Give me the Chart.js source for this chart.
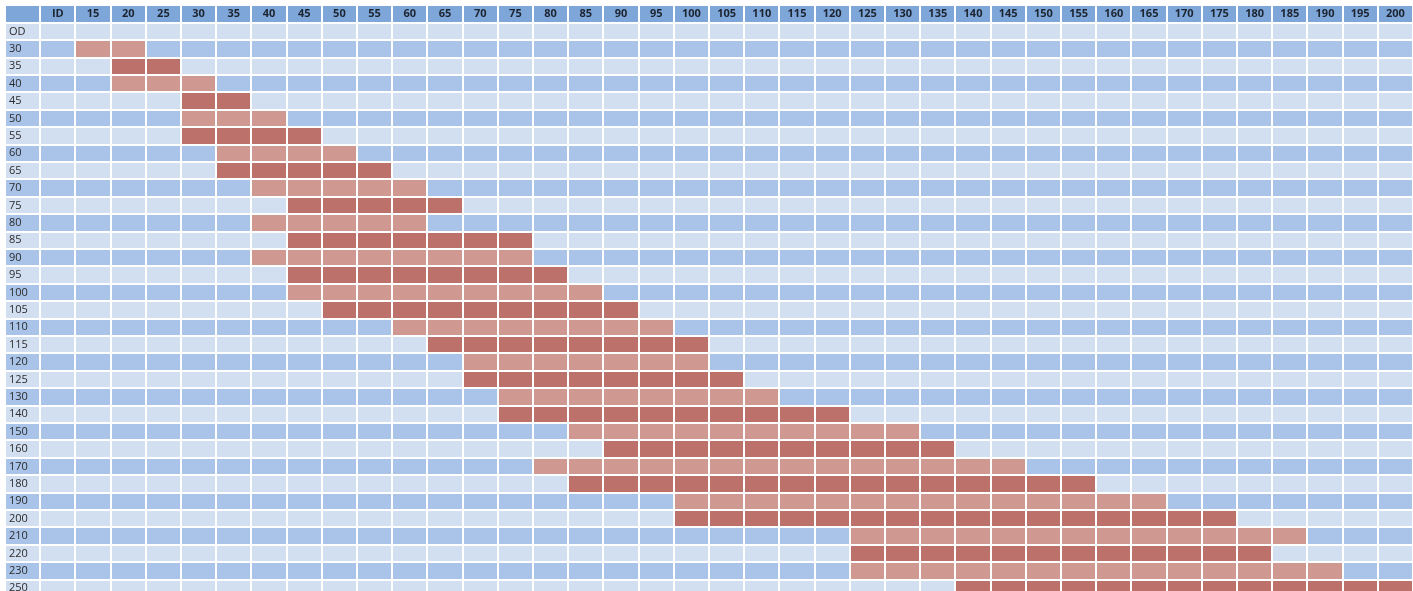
<!DOCTYPE html>
<html>
<head>
<meta charset="utf-8">
<title>Range grid</title>
<script src="https://cdn.jsdelivr.net/npm/chart.js@4"></script>
<style>
  html, body { margin: 0; padding: 0; background: #fff; overflow: hidden; }
  canvas { display: block; }
</style>
</head>
<body>
<canvas id="grid" width="1413" height="597"></canvas>
<script>
const columns = ['ID', '15', '20', '25', '30', '35', '40', '45', '50', '55', '60', '65', '70', '75',
  '80', '85', '90', '95', '100', '105', '110', '115', '120', '125', '130', '135', '140', '145',
  '150', '155', '160', '165', '170', '175', '180', '185', '190', '195', '200'];
const rows = ['OD', '30', '35', '40', '45', '50', '55', '60', '65', '70', '75', '80', '85', '90',
  '95', '100', '105', '110', '115', '120', '125', '130', '140', '150', '160', '170', '180', '190',
  '200', '210', '220', '230', '250'];
// first and last highlighted column for each row (null = none)
const redFrom = [null, '15', '20', '20', '30', '30', '30', '35', '35', '40', '45', '40', '45', '40',
  '45', '45', '50', '60', '65', '70', '70', '75', '75', '85', '90', '80', '85', '100',
  '100', '125', '125', '125', '140'];
const redTo = [null, '20', '25', '30', '35', '40', '45', '50', '55', '60', '65', '60', '75', '75',
  '80', '85', '90', '95', '100', '100', '105', '110', '120', '130', '135', '145', '155', '165',
  '175', '185', '180', '190', '200'];

const headBlue = '#7ea6d8';
const lightBlue = '#d2dff1';
const midBlue = '#a9c4e8';
const darkRed = '#bd716b';
const lightRed = '#cf9890';

// slot 0 on x is the row label column, slot 0 on y is the header row
const xLabels = [''].concat(columns);
const yLabels = [''].concat(rows);

const spans = yLabels.map(function (r, i) {
  if (i === 0 || redFrom[i - 1] === null) return null;
  return [xLabels.indexOf(redFrom[i - 1]), xLabels.indexOf(redTo[i - 1]) + 1];
});
const bands = yLabels.map(function () { return [0, xLabels.length]; });

new Chart(document.getElementById('grid'), {
  type: 'bar',
  data: {
    labels: yLabels,
    datasets: [
      {
        data: spans,
        backgroundColor: ctx => (ctx.dataIndex % 2 ? darkRed : lightRed),
        grouped: false,
        barPercentage: 1,
        categoryPercentage: 1
      },
      {
        data: bands,
        backgroundColor: ctx => (ctx.dataIndex === 0 ? headBlue : (ctx.dataIndex % 2 ? lightBlue : midBlue)),
        grouped: false,
        barPercentage: 1,
        categoryPercentage: 1
      }
    ]
  },
  options: {
    indexAxis: 'y',
    responsive: false,
    animation: false,
    layout: { padding: { top: 3.3, left: 1, right: 0, bottom: 0 }, autoPadding: false },
    plugins: { legend: { display: false }, tooltip: { enabled: false } },
    scales: {
      x: {
        type: 'linear',
        position: 'top',
        min: 0,
        max: xLabels.length,
        grid: { color: '#ffffff', lineWidth: 2, drawTicks: false, offset: true, z: 1 },
        border: { display: false },
        afterBuildTicks: function (s) {
          s.ticks = xLabels.map((l, i) => ({ value: i + 0.5 }));
        },
        afterFit: function (s) { s.height = 2; s.paddingLeft = 0; s.paddingRight = 0; },
        ticks: {
          z: 2,
          mirror: true,
          padding: 2,
          autoSkip: false,
          maxRotation: 0,
          minRotation: 0,
          color: '#1c2430',
          font: { family: 'Open Sans', size: 11, weight: 'bold' },
          callback: v => xLabels[Math.floor(v)]
        }
      },
      y: {
        type: 'category',
        grid: { color: '#ffffff', lineWidth: 2, drawTicks: false, offset: true, z: 1 },
        border: { display: false },
        afterFit: function (s) { s.width = 4; s.paddingTop = 0; s.paddingBottom = 0; },
        ticks: {
          z: 2,
          mirror: true,
          padding: 4,
          color: '#2b2b2b',
          font: { family: 'Open Sans', size: 11 }
        }
      }
    }
  }
});
</script>
</body>
</html>
